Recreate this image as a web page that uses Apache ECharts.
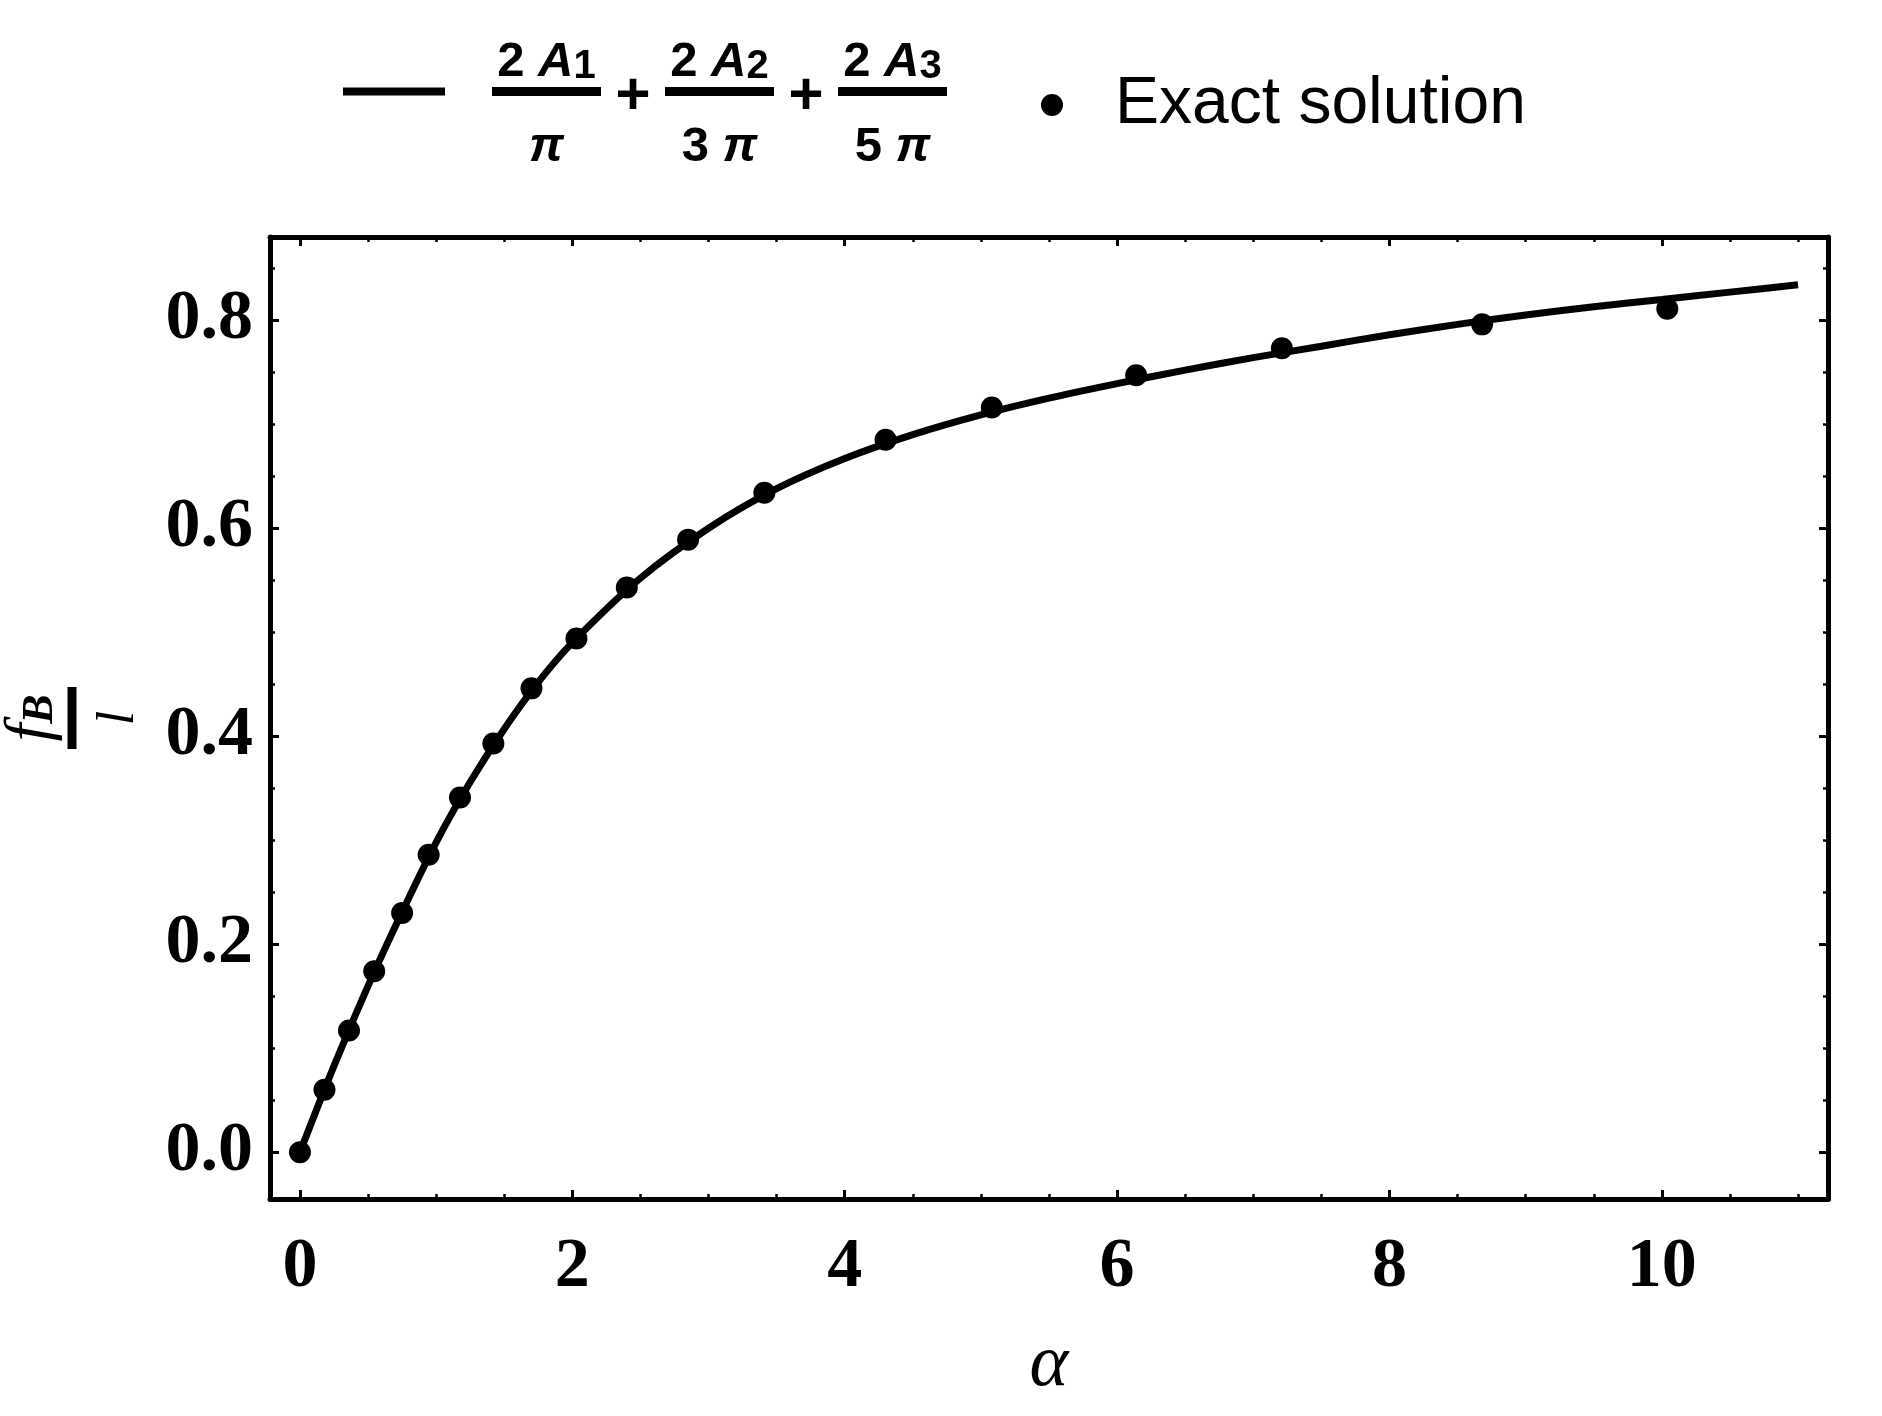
<!DOCTYPE html>
<html><head><meta charset="utf-8">
<script src="https://cdn.jsdelivr.net/npm/echarts@6/dist/echarts.min.js"></script>
<style>html,body{margin:0;padding:0;background:#fff}#c{width:1882px;height:1416px}</style>
</head><body><div id="c"></div>
<script>
// ---- data ----
const fitX = [0, 0.25, 0.5, 0.75, 1, 1.25, 1.5, 1.75, 2, 2.5, 3, 3.5, 4, 4.5, 5, 5.5, 6, 6.5, 7, 7.5, 8, 8.5, 9, 9.5, 10, 10.5, 11];
const fitY = [0, 0.083, 0.160, 0.231, 0.298, 0.356, 0.407, 0.452, 0.490, 0.552, 0.600, 0.638, 0.667, 0.690, 0.709, 0.725, 0.739, 0.752, 0.764, 0.775, 0.786, 0.796, 0.805, 0.813, 0.820, 0.827, 0.834];
const exactX = [0, 0.18, 0.36, 0.545, 0.75, 0.945, 1.175, 1.42, 1.70, 2.03, 2.40, 2.85, 3.41, 4.30, 5.08, 6.14, 7.21, 8.68, 10.04];
const exactY = [0, 0.060, 0.117, 0.174, 0.230, 0.286, 0.341, 0.393, 0.446, 0.494, 0.543, 0.589, 0.634, 0.685, 0.716, 0.747, 0.773, 0.796, 0.811];
const xMajorTicks = [0, 2, 4, 6, 8, 10];
const xTickLabels = ['0', '2', '4', '6', '8', '10'];
const xMinorTicks = [0.5, 1, 1.5, 2.5, 3, 3.5, 4.5, 5, 5.5, 6.5, 7, 7.5, 8.5, 9, 9.5, 10.5, 11];
const yMajorTicks = [0, 0.2, 0.4, 0.6, 0.8];
const yTickLabels = ['0.0', '0.2', '0.4', '0.6', '0.8'];
const yMinorTicks = [0.05, 0.1, 0.15, 0.25, 0.3, 0.35, 0.45, 0.5, 0.55, 0.65, 0.7, 0.75, 0.85];
const fitName = 'fit';
const exactName = 'Exact solution';

// ---- layout / style ----
const SERIF = '"Liberation Serif", "Times New Roman", serif';
const SANS = '"Liberation Sans", Arial, sans-serif';
const X_MIN = -0.22, X_MAX = 11.22, Y_MIN = -0.045, Y_MAX = 0.88;

const cv = document.createElement('canvas').getContext('2d');
function tw(t, style, weight, size) { cv.font = style + ' ' + weight + ' ' + size + 'px ' + SANS; return cv.measureText(t).width; }

const BAR_W = 109, GAP_W = 64, FS = 49, SUB = 40;
const rich = {
  sp1: { width: 42, height: 1, lineHeight: 101, align: 'center' },
  sp: { width: 42, height: 1, lineHeight: 1, align: 'center' },
  g: { width: GAP_W, height: 1, lineHeight: 1, align: 'center' },
  n: { fontFamily: SANS, fontWeight: 'bold', fontSize: FS, lineHeight: 80, verticalAlign: 'bottom', align: 'center', color: '#000' },
  a: { fontFamily: SANS, fontWeight: 'bold', fontStyle: 'italic', fontSize: FS, lineHeight: 80, verticalAlign: 'bottom', align: 'center', color: '#000' },
  s: { fontFamily: SANS, fontWeight: 'bold', fontSize: SUB, lineHeight: 10, verticalAlign: 'bottom', align: 'center', color: '#000' },
  bar: { width: BAR_W, height: 9, lineHeight: 9, backgroundColor: '#000', align: 'center' },
  p: { width: GAP_W, fontFamily: SANS, fontWeight: 'bold', fontSize: 60, lineHeight: 10, padding: [12, 0, 0, 0], align: 'center', color: '#000' },
  d: { fontFamily: SANS, fontWeight: 'bold', fontSize: FS, lineHeight: 101, align: 'center', color: '#000' },
  dpi: { fontFamily: SANS, fontWeight: 'bold', fontStyle: 'italic', fontSize: FS, lineHeight: 101, align: 'center', color: '#000' }
};
let padId = 0;
function pad(w) { const k = 'pd' + (padId++); rich[k] = { width: Math.max(0, w), height: 1, lineHeight: 1, align: 'center' }; return '{' + k + '|}'; }
function cell(parts) { // parts: [text, styleName, fontStyle, size]
  let w = 0; parts.forEach(p => { w += tw(p[0], p[2], 'bold', p[3]); });
  const l = (BAR_W - w) / 2;
  let s = pad(l);
  parts.forEach(p => { s += '{' + p[1] + '|' + p[0] + '}'; });
  s += pad(BAR_W - w - l);
  return s;
}
const line1 = '{sp1|}' + cell([['2 ', 'n', 'normal', FS], ['A', 'a', 'italic', FS], ['1', 's', 'normal', SUB]]) + '{g|}' +
  cell([['2 ', 'n', 'normal', FS], ['A', 'a', 'italic', FS], ['2', 's', 'normal', SUB]]) + '{g|}' +
  cell([['2 ', 'n', 'normal', FS], ['A', 'a', 'italic', FS], ['3', 's', 'normal', SUB]]);
const line2 = '{sp|}{bar|}{p|+}{bar|}{p|+}{bar|}';
const line3 = '{sp|}' + cell([['π', 'dpi', 'italic', FS]]) + '{g|}' +
  cell([['3 ', 'd', 'normal', FS], ['π', 'dpi', 'italic', FS]]) + '{g|}' +
  cell([['5 ', 'd', 'normal', FS], ['π', 'dpi', 'italic', FS]]);
const legendText = line1 + '\n' + line2 + '\n' + line3;

function xAxisCfg(pos, ticks, len, width, main) {
  return {
    type: 'value', position: pos, min: X_MIN, max: X_MAX,
    axisLine: { show: main, onZero: false, lineStyle: { color: '#000', width: 5 } },
    axisTick: { show: true, inside: true, length: len, customValues: ticks, lineStyle: { color: '#000', width: width } },
    axisLabel: (main && pos === 'bottom') ? {
      show: true, customValues: xMajorTicks, margin: 34,
      formatter: v => xTickLabels[xMajorTicks.indexOf(v)],
      fontFamily: SERIF, fontWeight: 'bold', fontSize: 70, color: '#000'
    } : { show: false },
    splitLine: { show: false }, minorTick: { show: false }
  };
}
function yAxisCfg(pos, ticks, len, width, main) {
  return {
    type: 'value', position: pos, min: Y_MIN, max: Y_MAX,
    axisLine: { show: main, onZero: false, lineStyle: { color: '#000', width: 5 } },
    axisTick: { show: true, inside: true, length: len, customValues: ticks, lineStyle: { color: '#000', width: width } },
    axisLabel: (main && pos === 'left') ? {
      show: true, customValues: yMajorTicks, margin: 17,
      formatter: v => yTickLabels[yMajorTicks.indexOf(v)],
      fontFamily: SERIF, fontWeight: 'bold', fontSize: 70, color: '#000'
    } : { show: false },
    splitLine: { show: false }, minorTick: { show: false }
  };
}
const xAxes = [xAxisCfg('bottom', xMajorTicks, 9, 3, true), xAxisCfg('bottom', xMinorTicks, 5, 2.5, false),
  xAxisCfg('top', xMajorTicks, 9, 3, true), xAxisCfg('top', xMinorTicks, 5, 2.5, false)];
xAxes[0].name = 'α';
xAxes[0].nameLocation = 'middle';
xAxes[0].nameGap = 130;
xAxes[0].nameTextStyle = { fontFamily: SERIF, fontStyle: 'italic', fontSize: 74, lineHeight: 74, color: '#000' };
const yAxes = [yAxisCfg('left', yMajorTicks, 9, 3, true), yAxisCfg('left', yMinorTicks, 5, 2.5, false),
  yAxisCfg('right', yMajorTicks, 9, 3, true), yAxisCfg('right', yMinorTicks, 5, 2.5, false)];
yAxes[0].name = '{f|f}{B|B}\n{bar|}\n{l|l}';
yAxes[0].nameLocation = 'middle';
yAxes[0].nameRotate = 90;
yAxes[0].nameGap = 113;
yAxes[0].nameTextStyle = {
  color: '#000', align: 'center',
  rich: {
    f: { fontFamily: SERIF, fontStyle: 'italic', fontSize: 64, lineHeight: 64, verticalAlign: 'bottom', color: '#000' },
    B: { fontFamily: SERIF, fontStyle: 'italic', fontWeight: 'bold', fontSize: 44, lineHeight: 30, verticalAlign: 'bottom', color: '#000' },
    bar: { width: 62, height: 9, lineHeight: 18, backgroundColor: '#000' },
    l: { fontFamily: SERIF, fontStyle: 'italic', fontSize: 52, lineHeight: 76, color: '#000' }
  }
};

const chart = echarts.init(document.getElementById('c'));
chart.setOption({
  animation: false,
  backgroundColor: '#fff',
  grid: { left: 270, top: 237, width: 1558, height: 962, containLabel: false, outerBoundsMode: 'none' },
  legend: [
    { data: [{ name: fitName, icon: 'rect' }], left: 343, top: 30, padding: 0, itemWidth: 102, itemHeight: 8, selectedMode: false,
      formatter: () => legendText, textStyle: { color: '#000', rich: rich } },
    { data: [{ name: exactName, icon: 'circle' }], left: 1041, top: 72, padding: 0, itemWidth: 22, itemHeight: 22, selectedMode: false,
      itemStyle: { opacity: 1 },
      formatter: n => '{sp|}{t|' + n + '}',
      textStyle: { color: '#000', rich: { sp: { width: 47, height: 1, lineHeight: 1 }, t: { fontFamily: SANS, fontSize: 66, lineHeight: 70, color: '#000' } } } }
  ],
  xAxis: xAxes,
  yAxis: yAxes,
  series: [
    { name: fitName, type: 'line', xAxisIndex: 0, yAxisIndex: 0, data: fitX.map((x, i) => [x, fitY[i]]),
      smooth: 0.3, showSymbol: false, symbol: 'none', lineStyle: { color: '#000', width: 7 }, itemStyle: { color: '#000' }, z: 2 },
    { name: exactName, type: 'scatter', xAxisIndex: 0, yAxisIndex: 0, data: exactX.map((x, i) => [x, exactY[i]]),
      symbol: 'circle', symbolSize: 22, itemStyle: { color: '#000', opacity: 1 }, z: 3 }
  ]
});
</script></body></html>
